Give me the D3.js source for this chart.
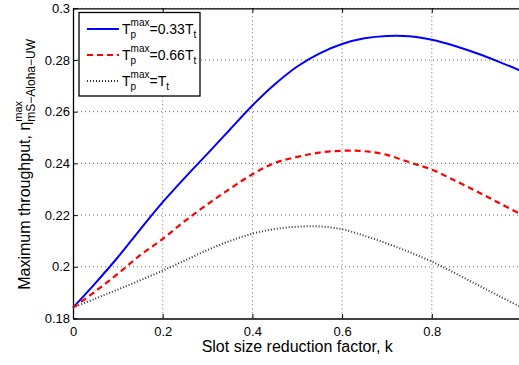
<!DOCTYPE html>
<html lang="en">
<head>
    <meta charset="UTF-8">
    <title>Maximum throughput vs slot size reduction factor</title>
    <script src="https://d3js.org/d3.v7.min.js"></script>
    <style>
        body { margin: 0; background: #fff; }
        svg { display: block; font-family: "Liberation Sans", Arial, Helvetica, sans-serif; }
        .grid line { stroke: #444; stroke-width: 0.8; stroke-dasharray: 1 3; }
        .axis path, .axis line { stroke: #000; }
        .axis text { font-size: 13px; fill: #000; }
    </style>
</head>
<body>
    <script>
        // slot size reduction factor k
        const kValues = [0, 0.05, 0.1, 0.15, 0.2, 0.25, 0.3, 0.35, 0.4, 0.45, 0.5,
                         0.55, 0.6, 0.65, 0.7, 0.75, 0.8, 0.85, 0.9, 0.95, 1.0];

        // Tp max = 0.33 Tt
        const thr033 = [0.1842, 0.1937, 0.2037, 0.2145, 0.2250, 0.2346, 0.2438, 0.2531, 0.2624, 0.2706, 0.2775,
                        0.2826, 0.2862, 0.2884, 0.2893, 0.2892, 0.2878, 0.2855, 0.2826, 0.2793, 0.2757];
        // Tp max = 0.66 Tt
        const thr066 = [0.1842, 0.1905, 0.1973, 0.2045, 0.2108, 0.2178, 0.2242, 0.2302, 0.2358, 0.2402, 0.2425,
                        0.2442, 0.2449, 0.2447, 0.2433, 0.2404, 0.2376, 0.2335, 0.2292, 0.2247, 0.2202];
        // Tp max = Tt
        const thr1 = [0.1842, 0.1877, 0.1912, 0.1948, 0.1985, 0.2025, 0.2065, 0.2100, 0.2128, 0.2146, 0.2155,
                      0.2156, 0.2145, 0.2120, 0.2090, 0.2057, 0.2020, 0.1977, 0.1932, 0.1887, 0.1843];

        const xTicks = [0, 0.2, 0.4, 0.6, 0.8, 1];
        const yTicks = [0.18, 0.2, 0.22, 0.24, 0.26, 0.28, 0.3];

        const series = [
            { name: "0.33", values: thr033, color: "#0000ff", dash: null, width: 2 },
            { name: "0.66", values: thr066, color: "#ff0000", dash: "6 4", width: 2.2 },
            { name: "1", values: thr1, color: "#333", dash: "1 2", width: 2 }
        ];

        const width = 519, height = 365;
        const plotL = 73, plotR = 521.5, plotT = 8.3, plotB = 318.5;

        const svg = d3.select("body").append("svg")
            .attr("width", width)
            .attr("height", height);

        const x = d3.scaleLinear().domain([0, 1]).range([plotL, plotR]);
        const y = d3.scaleLinear().domain([0.18, 0.3]).range([plotB, plotT]);

        // grid
        const grid = svg.append("g").attr("class", "grid");
        grid.selectAll("line.v")
            .data(xTicks.slice(1))
            .enter().append("line")
            .attr("x1", d => x(d)).attr("x2", d => x(d))
            .attr("y1", plotT).attr("y2", plotB);
        grid.selectAll("line.h")
            .data(yTicks.slice(1))
            .enter().append("line")
            .attr("x1", plotL).attr("x2", plotR)
            .attr("y1", d => y(d)).attr("y2", d => y(d));

        // axes (ticks pointing inwards)
        const fmt = d => d3.format("~g")(d);
        svg.append("g").attr("class", "axis")
            .attr("transform", `translate(0,${plotB})`)
            .call(d3.axisBottom(x).tickValues(xTicks).tickFormat(fmt).tickSizeInner(-4.5).tickSizeOuter(0).tickPadding(8))
            .call(g => g.select(".domain").attr("stroke-width", 1.3));
        svg.append("g").attr("class", "axis")
            .attr("transform", `translate(0,${plotT})`)
            .call(d3.axisTop(x).tickValues(xTicks).tickFormat("").tickSizeInner(-4.5).tickSizeOuter(0))
            .call(g => g.select(".domain").attr("stroke-width", 1.3));
        svg.append("g").attr("class", "axis")
            .attr("transform", `translate(${plotL},0)`)
            .call(d3.axisLeft(y).tickValues(yTicks).tickFormat(fmt).tickSizeInner(-4.5).tickSizeOuter(0).tickPadding(3))
            .call(g => g.select(".domain").attr("stroke-width", 1.3));

        // curves
        const line = d3.line()
            .x((d, i) => x(kValues[i]))
            .y(d => y(d))
            .curve(d3.curveCatmullRom);

        svg.append("g").selectAll("path")
            .data(series)
            .enter().append("path")
            .attr("d", d => line(d.values))
            .attr("fill", "none")
            .attr("stroke", d => d.color)
            .attr("stroke-width", d => d.width)
            .attr("stroke-dasharray", d => d.dash);

        // text with stacked sub/superscripts; parts are placed one after the other
        function rich(g, x0, y0, parts) {
            let cx = x0;
            let stackStart = null, stackW = 0;
            parts.forEach(p => {
                const px = p.stackWith ? stackStart : cx;
                const t = g.append("text")
                    .attr("x", px).attr("y", y0 + (p.shift || 0))
                    .attr("font-size", p.size)
                    .text(p.text);
                const w = t.node().getComputedTextLength();
                if (p.stack) {
                    stackStart = cx; stackW = w;
                } else if (p.stackWith) {
                    cx = stackStart + Math.max(w, stackW);
                } else {
                    cx += w;
                }
            });
            return cx - x0;
        }

        // legend
        const legend = svg.append("g");
        legend.append("rect")
            .attr("x", 79).attr("y", 12.5)
            .attr("width", 121).attr("height", 83.5)
            .attr("fill", "#fff").attr("stroke", "#000").attr("stroke-width", 1.3);
        series.forEach((s, i) => {
            const ly = 29 + i * 26;
            legend.append("line")
                .attr("x1", 87).attr("x2", 119)
                .attr("y1", ly).attr("y2", ly)
                .attr("stroke", s.color)
                .attr("stroke-width", s.width)
                .attr("stroke-dasharray", s.dash);
            const g = legend.append("g");
            rich(g, 122, ly + 5, [
                { text: "T", size: 14 },
                { text: "max", size: 10, shift: -8, stack: true },
                { text: "p", size: 10, shift: 4, stackWith: true },
                { text: s.name === "1" ? "=T" : "=" + s.name + "T", size: 14 },
                { text: "t", size: 10, shift: 4 }
            ]);
        });

        // x label
        svg.append("text")
            .attr("x", x(0.5)).attr("y", 352)
            .attr("text-anchor", "middle")
            .attr("font-size", 16)
            .text("Slot size reduction factor, k");

        // y label
        const yl = svg.append("g");
        const total = rich(yl, 0, 0, [
            { text: "Maximum throughput, \u03b7", size: 16 },
            { text: "max", size: 11, shift: -8, stack: true },
            { text: "mS\u2212Aloha\u2212UW", size: 12, shift: 5, stackWith: true }
        ]);
        yl.attr("transform", `translate(30,${(plotT + plotB) / 2 + 1}) rotate(-90) translate(${-total / 2},0)`);
    </script>
</body>
</html>
